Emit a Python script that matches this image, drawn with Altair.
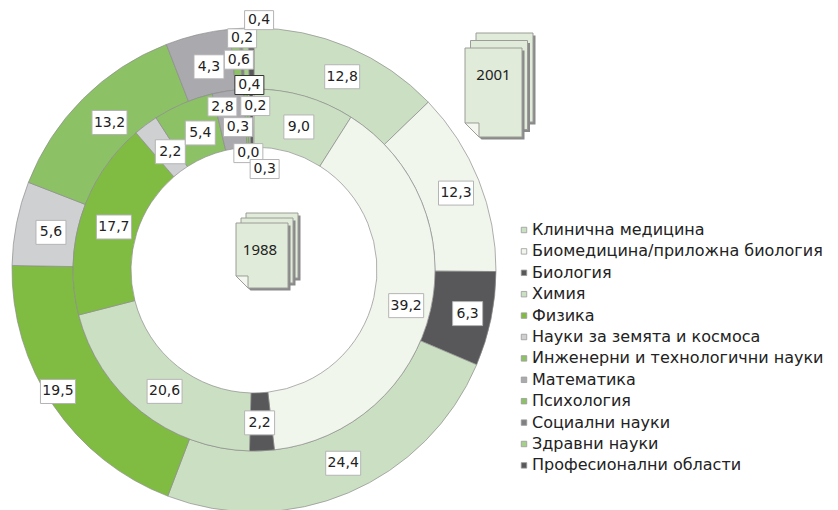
import altair as alt
import pandas as pd

categories = ["Клинична медицина", "Биомедицина/приложна биология", "Биология", "Химия", "Физика",
              "Науки за земята и космоса", "Инженерни и технологични науки", "Математика", "Психология",
              "Социални науки", "Здравни науки", "Професионални области"]
values_2001 = [12.8, 12.3, 6.3, 24.4, 19.5, 5.6, 13.2, 4.3, 0.6, 0.2, 0.4, 0.4]
values_1988 = [9.0, 39.2, 2.2, 20.6, 17.7, 2.2, 5.4, 2.8, 0.3, 0.0, 0.2, 0.3]
colors = ["#cbe0c2", "#f1f6ed", "#58585a", "#cbe0c2", "#80bc41", "#cfd0d2", "#8cc265", "#a9a9ae",
          "#8cc265", "#808084", "#a5d08a", "#58585a"]

# label nudges away from the ring's mid-radius (layout, in pixels)
nudge_2001 = [(6, -1), (7, 0), (8, 0), (7, -1), (-22, 3), (3, 2), (4, 0), (4, 0), (2, -2), (0, -23), (13, -41), (-2, 24)]
nudge_1988 = [(3, 0), (6, 1), (-1, 2), (4, 3), (3, 1), (6, 1), (5, 0), (-10, -16), (-9, 6), (0, 32), (6, -15), (13, 48)]

W, H = 822, 502
CX, CY = 246, 262
R = {"2001": (181, 242), "1988": (123, 181)}
LABEL_R = {"2001": 210, "1988": 150}

rows = []
for ring, vals, nud in (("2001", values_2001, nudge_2001), ("1988", values_1988, nudge_1988)):
    for i, (c, v, n) in enumerate(zip(categories, vals, nud)):
        label = f"{v:.1f}".replace(".", ",")
        kind = "l" if len(label) > 3 else ("s" if v < 1 or label == "2,8" else "m")
        rows.append(dict(ring=ring, cat=c, order=i, value=v, dx=n[0], dy=n[1], rmid=LABEL_R[ring],
                         label=label, kind=kind, dark=(ring == "2001" and i == 11)))
df = pd.DataFrame(rows)
base = alt.Chart(df)

color = alt.Color("cat:N", scale=alt.Scale(domain=categories, range=colors),
                  legend=alt.Legend(orient="none", legendX=508, legendY=214, title=None, symbolType="square",
                                    symbolSize=30, symbolStrokeColor="#9a9a9a", symbolStrokeWidth=0.8,
                                    labelFontSize=16, labelFont="DejaVu Sans", labelColor="#222222",
                                    labelLimit=400, rowPadding=5.4, symbolOffset=0, labelOffset=0, padding=0))


def ring_arc(ring):
    r2, r = R[ring]
    return base.transform_filter(alt.datum.ring == ring).mark_arc(
        radius=r, radius2=r2, stroke="#8c8c8c", strokeWidth=0.7).encode(
        theta=alt.Theta("value:Q", stack=True, scale=alt.Scale(domain=[0, 100])),
        order=alt.Order("order:Q"),
        color=color,
        x=alt.value(CX), y=alt.value(CY))


placed = base.transform_window(cum="sum(value)", groupby=["ring"], sort=[alt.SortField("order")]).transform_calculate(
    a="(datum.cum - datum.value / 2) / 100 * 2 * PI",
    px=f"{CX} + datum.rmid * sin(datum.a) + datum.dx",
    py=f"{CY + 1} - datum.rmid * cos(datum.a) + datum.dy")
xenc = alt.X("px:Q", scale=alt.Scale(domain=[0, W], range=[0, W]), axis=None)
yenc = alt.Y("py:Q", scale=alt.Scale(domain=[0, H], range=[0, H]), axis=None)


def box_layer(kind, w, h):
    a = h / w
    return placed.transform_filter(alt.datum.kind == kind).mark_point(
        shape=f"M-1,{-a:.3f}H1V{a:.3f}H-1Z", size=w * w, filled=True, fill="#ffffff", opacity=1,
        strokeWidth=1).encode(
        x=xenc, y=yenc,
        stroke=alt.condition("datum.dark", alt.value("#333333"), alt.value("#b4b4b4")))


boxes = [box_layer("l", 35, 24), box_layer("m", 30, 24), box_layer("s", 29, 19)]
texts = placed.mark_text(font="DejaVu Sans", fontSize=14, color="#222222").encode(x=xenc, y=yenc, text="label:N")


def page_layers(x, y, w, h, offs, label, fold, tx, ty):
    a = h / w
    f = fold / (w / 2)
    shape = f"M-1,{-a:.3f}H1V{a:.3f}H{-1 + f:.3f}L-1,{a - f:.3f}Z"
    fold_shape = f"M-1,{a - f:.3f}L{-1 + f:.3f},{a - f:.3f}L{-1 + f:.3f},{a:.3f}Z"
    out = []
    for ox, oy in offs:
        one = alt.Chart(pd.DataFrame({"k": [0]}))
        out.append(one.mark_point(shape=shape, size=w * w, filled=True, fill="#8a8a8a", opacity=1, strokeWidth=0).encode(
            x=alt.value(x + ox + 2.5), y=alt.value(y + oy + 2.5)))
        out.append(one.mark_point(shape=shape, size=w * w, filled=True, fill="#e0ebd9", opacity=1, stroke="#9c9c98",
                                  strokeWidth=1).encode(x=alt.value(x + ox), y=alt.value(y + oy)))
    one = alt.Chart(pd.DataFrame({"k": [0]}))
    out.append(one.mark_point(shape=fold_shape, size=w * w, filled=True, fill="#f3f7ef", opacity=1, stroke="#9c9c98",
                              strokeWidth=1).encode(x=alt.value(x), y=alt.value(y)))
    out.append(one.mark_text(text=label, font="Noto Sans", fontSize=15, color="#222222").encode(
        x=alt.value(x + tx), y=alt.value(y + ty)))
    return out


pages = page_layers(485.5, 84.5, 57, 89, [(11, -15), (5.5, -7.5), (0, 0)], "2001", 14, 0, -17.5) + \
        page_layers(254, 247.5, 52, 65, [(10, -10), (5, -5), (0, 0)], "1988", 12, -2, -5.5)

chart = alt.layer(ring_arc("2001"), ring_arc("1988"), *pages, *boxes, texts).properties(
    width=W, height=H, padding=0).configure_view(stroke=None)
chart.save("out.html", embed_options={"renderer": "svg", "actions": False})
